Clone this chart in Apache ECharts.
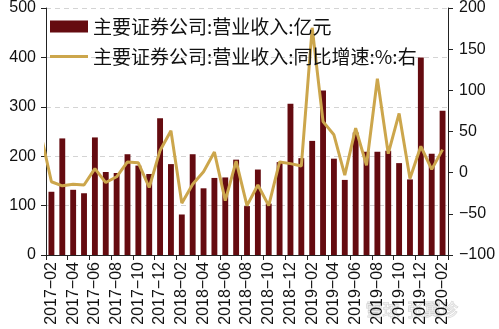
<!DOCTYPE html>
<html>
<head>
<meta charset="utf-8">
<script src="https://cdn.jsdelivr.net/npm/echarts@6/dist/echarts.min.js"></script>
<style>
  html, body { margin: 0; padding: 0; background: #fff; }
  #main { width: 499px; height: 329px; }
</style>
</head>
<body>
<div id="main"></div>
<script>
// 月份（柱）
var months = ['2017-02', '2017-03', '2017-04', '2017-05', '2017-06', '2017-07', '2017-08', '2017-09', '2017-10', '2017-11', '2017-12',
  '2018-01', '2018-02', '2018-03', '2018-04', '2018-05', '2018-06', '2018-07', '2018-08', '2018-09', '2018-10', '2018-11', '2018-12',
  '2019-01', '2019-02', '2019-03', '2019-04', '2019-05', '2019-06', '2019-07', '2019-08', '2019-09', '2019-10', '2019-11', '2019-12',
  '2020-01', '2020-02'];
// 营业收入：亿元
var revenue = [128, 236, 132, 125, 238, 168, 166, 204, 181, 164, 277,
  184, 82, 204, 135, 156, 157, 193, 99, 173, 104, 188, 306,
  196, 231, 333, 195, 152, 248, 209, 209, 211, 186, 153, 400,
  205, 292];
// 同比增速：%（右轴），第一个是 2017-01，被坐标轴裁掉一半
var growthMonths = ['2017-01'].concat(months);
var growth = [48, -11, -16, -14, -15, 5, -12, -5, 13, 12, -18, 27,
  51, -37, -14, 1, 25, -34, 14, -40, -15, -40, 13, 11,
  8, 176, 62, 46, -3, 54, 9, 114, 23, 72, -7, 32,
  4, 28];

var leftTicks = [0, 100, 500];
var rightTicks = [-100, 50, 200];

var barName = '主要证券公司:营业收入:亿元';
var lineName = '主要证券公司:营业收入:同比增速:%:右';

var numFont = '"Liberation Sans", Arial, sans-serif';
var cjkFont = '"Noto Sans CJK SC", sans-serif';

function dash(v) {
  return String(v).replace(/-/g, '\u2212');
}

// 折线放到隐藏的数值轴上，点落在每个柱子中心
var lineData = growth.map(function (v, i) {
  return [i - 0.5, v];
});

var chart = echarts.init(document.getElementById('main'));
chart.setOption({
  animation: false,
  backgroundColor: '#fff',
  grid: { left: 46, right: 51, top: 8, bottom: 74, containLabel: false },
  legend: {
    orient: 'vertical',
    left: 45,
    top: 12,
    itemWidth: 38,
    itemHeight: 12,
    itemGap: 11,
    symbolKeepAspect: true,
    textStyle: { fontFamily: cjkFont, fontSize: 19, color: '#111', lineHeight: 19 },
    data: [
      { name: barName, icon: 'rect' },
      { name: lineName, icon: 'path://M0,0L38,0L38,3L0,3Z' }
    ]
  },
  xAxis: [
    {
      type: 'category',
      data: months,
      boundaryGap: true,
      axisLine: { lineStyle: { color: '#222', width: 1 } },
      axisTick: { show: true, interval: 1, length: 5, inside: false, lineStyle: { color: '#222' } },
      axisLabel: {
        interval: 1,
        rotate: 90,
        margin: 7,
        fontFamily: numFont,
        fontSize: 16,
        color: '#111',
        formatter: dash
      },
      splitLine: { show: false }
    },
    {
      type: 'value',
      min: 0,
      max: months.length,
      show: false
    }
  ],
  yAxis: [
    {
      type: 'value',
      min: leftTicks[0],
      max: leftTicks[2],
      interval: leftTicks[1],
      axisLine: { show: true, lineStyle: { color: '#222' } },
      axisTick: { show: true, length: 5, lineStyle: { color: '#222' } },
      axisLabel: { margin: 10, fontFamily: numFont, fontSize: 16, color: '#111' },
      splitLine: { show: true, lineStyle: { color: '#d4d4d4', type: [5, 4], width: 1 } }
    },
    {
      type: 'value',
      min: rightTicks[0],
      max: rightTicks[2],
      interval: rightTicks[1],
      position: 'right',
      axisLine: { show: true, lineStyle: { color: '#222' } },
      axisTick: { show: true, length: 5, lineStyle: { color: '#222' } },
      axisLabel: { margin: 11, fontFamily: numFont, fontSize: 16, color: '#111', formatter: dash },
      splitLine: { show: false }
    }
  ],
  series: [
    {
      name: barName,
      type: 'bar',
      xAxisIndex: 0,
      yAxisIndex: 0,
      data: revenue,
      barWidth: '54%',
      itemStyle: { color: '#650b10' }
    },
    {
      name: lineName,
      type: 'line',
      xAxisIndex: 1,
      yAxisIndex: 1,
      data: lineData,
      clip: true,
      symbol: 'none',
      lineStyle: { color: '#cca64c', width: 3 },
      itemStyle: { color: '#cca64c' },
      z: 3
    }
  ],
  graphic: [
    {
      type: 'text',
      left: 365,
      top: 301,
      silent: true,
      style: {
        text: '雪球  张翼珍',
        fontFamily: cjkFont,
        fontSize: 17,
        fill: 'rgba(255,255,255,0.55)',
        stroke: 'rgba(170,170,170,0.55)',
        lineWidth: 1
      }
    }
  ]
});
</script>
</body>
</html>
